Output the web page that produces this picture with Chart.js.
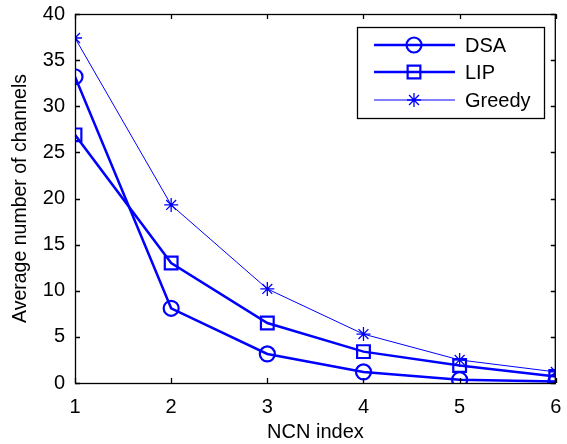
<!DOCTYPE html>
<html>
<head>
<meta charset="utf-8">
<script src="https://cdn.jsdelivr.net/npm/chart.js@4/dist/chart.umd.min.js"></script>
<style>
  html, body { margin: 0; padding: 0; background: #fff; }
  #wrap { width: 567px; height: 444px; }
</style>
</head>
<body>
<div id="wrap"><canvas id="myChart" width="567" height="444"></canvas></div>
<script>
const ncnIndex = [1, 2, 3, 4, 5, 6];
const dsaValues = [33.2, 8.1, 3.15, 1.2, 0.35, 0.15];
const lipValues = [26.9, 13.0, 6.5, 3.4, 1.9, 0.7];
const greedyValues = [37.4, 19.3, 10.2, 5.3, 2.5, 1.2];
const yTicks = [0, 5, 10, 15, 20, 25, 30, 35, 40];

const BLUE = "#0000ff";
const FONT = "'Liberation Sans', Arial, Helvetica, sans-serif";

function toPoints(vals) {
  return ncnIndex.map((x, i) => ({ x: x, y: vals[i] }));
}

// box round the plot with inward ticks (matlab style) + legend
const boxPlugin = {
  id: "box",
  afterDraw(c) {
    const ctx = c.ctx;
    const a = c.chartArea;
    const xs = c.scales.x;
    const ys = c.scales.y;
    ctx.save();
    ctx.strokeStyle = "#000";
    ctx.lineWidth = 1.3;
    ctx.strokeRect(a.left + 0.5, a.top + 0.5, a.right - a.left - 1, a.bottom - a.top);
    ctx.beginPath();
    ncnIndex.forEach((v) => {
      const px = Math.round(xs.getPixelForValue(v)) + 0.5;
      ctx.moveTo(px, a.bottom); ctx.lineTo(px, a.bottom - 5);
      ctx.moveTo(px, a.top); ctx.lineTo(px, a.top + 5);
    });
    yTicks.forEach((v) => {
      const py = Math.round(ys.getPixelForValue(v)) + 0.5;
      ctx.moveTo(a.left, py); ctx.lineTo(a.left + 5, py);
      ctx.moveTo(a.right, py); ctx.lineTo(a.right - 5, py);
    });
    ctx.stroke();

    // legend
    const lx = 357, ly = 27, lw = 187, lh = 91;
    ctx.fillStyle = "#fff";
    ctx.fillRect(lx, ly, lw, lh);
    ctx.strokeStyle = "#000";
    ctx.lineWidth = 1.3;
    ctx.strokeRect(lx + 0.5, ly + 0.5, lw, lh);
    const rows = [45, 72, 100];
    c.data.datasets.forEach((ds, i) => {
      const y = rows[i];
      ctx.strokeStyle = BLUE;
      ctx.lineWidth = ds.borderWidth;
      ctx.beginPath();
      ctx.moveTo(374, y); ctx.lineTo(455, y);
      ctx.stroke();
      ctx.fillStyle = "rgba(0,0,0,0)";
      ctx.lineWidth = ds.pointBorderWidth;
      Chart.helpers.drawPoint(ctx, {
        pointStyle: ds.pointStyle,
        radius: ds.pointRadius,
        borderWidth: ds.pointBorderWidth
      }, 414, y);
      ctx.fillStyle = "#000";
      ctx.font = "20px " + FONT;
      ctx.textBaseline = "middle";
      ctx.fillText(ds.label, 465, y + 1);
    });
    ctx.restore();
  }
};

const ctx = document.getElementById("myChart");

const chart = new Chart(ctx, {
  type: "line",
  data: {
    datasets: [
      {
        label: "DSA",
        data: toPoints(dsaValues),
        borderColor: BLUE,
        backgroundColor: "rgba(0,0,0,0)",
        borderWidth: 2.5,
        pointStyle: "circle",
        pointRadius: 7.5,
        pointBorderWidth: 2.2,
        pointBorderColor: BLUE,
        pointBackgroundColor: "rgba(0,0,0,0)",
      },
      {
        label: "LIP",
        data: toPoints(lipValues),
        borderColor: BLUE,
        backgroundColor: "rgba(0,0,0,0)",
        borderWidth: 2.5,
        pointStyle: "rect",
        pointRadius: 9,
        pointBorderWidth: 2.2,
        pointBorderColor: BLUE,
        pointBackgroundColor: "rgba(0,0,0,0)",
      },
      {
        label: "Greedy",
        data: toPoints(greedyValues),
        borderColor: BLUE,
        backgroundColor: "rgba(0,0,0,0)",
        borderWidth: 1,
        pointStyle: "star",
        pointRadius: 7,
        pointBorderWidth: 1.3,
        pointBorderColor: BLUE,
        pointBackgroundColor: "rgba(0,0,0,0)",
      },
    ],
  },
  options: {
    responsive: false,
    animation: false,
    layout: { padding: { top: 14, right: 8, left: 0, bottom: 0 } },
    plugins: {
      legend: { display: false },
      tooltip: { enabled: false },
    },
    elements: { line: { tension: 0 } },
    scales: {
      x: {
        type: "linear",
        min: 1,
        max: 6,
        afterFit(s) { s.height = 61; s.paddingLeft = 0; s.paddingRight = 0; },
        afterBuildTicks(s) { s.ticks = ncnIndex.map((v) => ({ value: v })); },
        grid: { display: false, drawTicks: false },
        border: { display: false },
        ticks: { color: "#000", font: { family: FONT, size: 20 }, padding: 12 },
        title: {
          display: true,
          text: "NCN index",
          color: "#000",
          font: { family: FONT, size: 20 },
          padding: { top: 0, bottom: 0 },
        },
      },
      y: {
        min: 0,
        max: 40,
        afterFit(s) { s.width = 75; s.paddingTop = 0; s.paddingBottom = 0; },
        afterBuildTicks(s) { s.ticks = yTicks.map((v) => ({ value: v })); },
        grid: { display: false, drawTicks: false },
        border: { display: false },
        ticks: { color: "#000", font: { family: FONT, size: 20 }, padding: 10 },
        title: {
          display: true,
          text: "Average number of channels",
          color: "#000",
          font: { family: FONT, size: 19.5 },
          padding: { top: 9, bottom: 0 },
        },
      },
    },
  },
  plugins: [boxPlugin],
});
</script>
</body>
</html>
